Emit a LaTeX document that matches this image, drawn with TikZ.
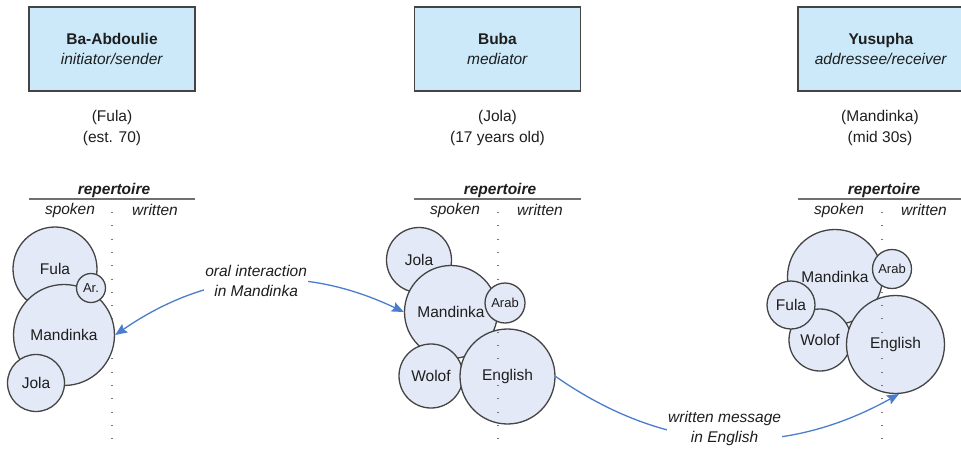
\documentclass[tikz,border=0pt]{standalone}
\usepackage{fontspec}
\setmainfont{Liberation Sans}
\usetikzlibrary{arrows.meta}
\definecolor{boxfill}{RGB}{204,233,250}
\definecolor{circfill}{RGB}{227,233,246}
\definecolor{edgegray}{RGB}{68,68,68}
\definecolor{arrowblue}{RGB}{74,125,205}
\definecolor{rulegray}{RGB}{112,112,112}
\definecolor{dotgray}{RGB}{120,120,120}
\definecolor{textgray}{RGB}{30,30,30}
\begin{document}
\begin{tikzpicture}[x=1pt,y=-1pt,
  every node/.style={font=\fontsize{15.5}{20}\selectfont, text=textgray},
  person/.style={draw=edgegray, line width=1.7pt, fill=boxfill, minimum width=166pt, minimum height=84pt, inner sep=0pt, align=center},
  info/.style={align=center, inner sep=0pt, font=\fontsize{15.5}{21}\selectfont},
  lang/.style={circle, draw=edgegray, line width=1.3pt, fill=circfill, inner sep=0pt, minimum size=#1},
  smalltext/.style={font=\fontsize{13}{15}\selectfont},
  rep/.style={font=\fontsize{15.5}{18}\selectfont\bfseries\itshape, inner sep=0pt},
  colhead/.style={font=\fontsize{15.5}{18}\selectfont\itshape, inner sep=0pt},
  repline/.style={draw=rulegray, line width=2.4pt},
  divider/.style={draw=dotgray, line width=1.6pt, dash pattern=on 0.9pt off 12.4pt},
  flow/.style={draw=arrowblue, line width=1.3pt},
  tipshape/.style={},
  lbl/.style={fill=white, inner sep=1pt, align=center, font=\fontsize{15.5}{20}\selectfont\itshape}
]
\useasboundingbox (0,0) rectangle (961,453);
\clip (0,0) rectangle (961,453);

% ---------- persons ----------
\node[person] (pA) at (112,49) {\textbf{Ba-Abdoulie}\\\textit{initiator/sender}};
\node[person] (pB) at (497.5,49) {\textbf{Buba}\\\textit{mediator}};
\node[person] (pC) at (881,49) {\textbf{Yusupha}\\\textit{addressee/receiver}};

\node[info] (iA) at (112,127.5) {(Fula)\\(est. 70)};
\node[info] (iB) at (497.5,127.5) {(Jola)\\(17 years old)};
\node[info] (iC) at (880,127.5) {(Mandinka)\\(mid 30s)};

% ---------- repertoire headers ----------
\node[rep] (rA) at (114,190) {repertoire};
\node[rep] (rB) at (500,190) {repertoire};
\node[rep] (rC) at (884,190) {repertoire};
\draw[repline] (29,199) -- (195,199);
\draw[repline] (414,199) -- (581,199);
\draw[repline] (798,199) -- (965,199);
\node[colhead] (sA) at (70,210) {spoken};
\node[colhead] (wA) at (155,210) {written};
\node[colhead] (sB) at (455,210) {spoken};
\node[colhead] (wB) at (540,210) {written};
\node[colhead] (sC) at (839,210) {spoken};
\node[colhead] (wC) at (924,210) {written};

% ---------- left repertoire ----------
\draw[divider] (112,212) -- (112,442);
\node[lang=84pt] (lfula) at (55,269) {Fula};
\node[lang=101pt] (lmand) at (64,335) {Mandinka};
\node[lang=57pt] (ljola) at (36,383) {Jola};
\node[lang=29pt, smalltext] (lar) at (91,288) {Ar.};

% ---------- middle repertoire ----------
\node[lang=65pt] (mjola) at (419,260) {Jola};
\node[lang=93pt] (mmand) at (451,312) {Mandinka};
\node[lang=64pt] (mwolof) at (431,376) {Wolof};
\node[lang=95pt] (meng) at (507.5,376.5) {English};
\draw[divider] (498,212) -- (498,442);
\node[lang=40pt, smalltext] (marab) at (505,303) {Arab};

% ---------- right repertoire ----------
\node[lang=95pt] (rmand) at (835,277) {Mandinka};
\node[lang=62pt] (rwolof) at (820,340) {Wolof};
\node[lang=48pt] (rfula) at (791,305) {Fula};
\node[lang=98pt] (reng) at (895.5,344.5) {English};
\draw[divider] (882,212) -- (882,442);
\node[lang=39pt, smalltext] (rarab) at (892,269) {Arab};

% ---------- connectors ----------
\draw[flow, {Stealth[length=12pt,width=10pt,inset=2pt]}-{Stealth[length=12pt,width=10pt,inset=2pt]}]
  (lmand.east) to[bend left=30] node[lbl] (oral) {oral interaction\\in Mandinka} (mmand.west);
\draw[flow, -{Stealth[length=12pt,width=10pt,inset=2pt]}]
  (meng.east) to[bend right=32] node[lbl, yshift=10pt] (wmsg) {written message\\in English} (reng.-86);
\end{tikzpicture}
\end{document}
